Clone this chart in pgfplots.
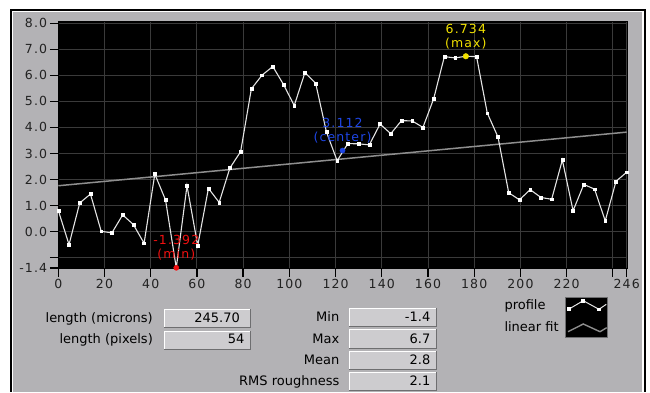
\documentclass[border=0pt]{standalone}
\usepackage{pgfplots}
\pgfplotsset{compat=1.18}
\usepackage{fontspec}
\setmainfont{DejaVu Sans}
\newfontfamily\tickfont[LetterSpace=9]{DejaVu Sans}
\definecolor{panel}{HTML}{B3B2B5}
\definecolor{boxfill}{HTML}{CDCCCF}
\definecolor{boxdark}{HTML}{6E6E70}
\definecolor{gridc}{HTML}{3A3A3A}
\definecolor{profc}{HTML}{E4E4E4}
\definecolor{fitc}{HTML}{8E8E8E}
\definecolor{ticktext}{HTML}{222222}
\definecolor{annred}{HTML}{F01010}
\definecolor{annblue}{HTML}{1E46E6}
\definecolor{annyellow}{HTML}{F0E000}
\pgfplotstableread{
x y
0.00 0.81
4.64 -0.50
9.28 1.10
13.92 1.44
18.57 0.01
23.21 -0.05
27.85 0.64
32.49 0.27
37.13 -0.45
41.77 2.21
46.42 1.21
51.06 -1.392
55.70 1.76
60.34 -0.54
64.98 1.66
69.62 1.12
74.26 2.44
78.91 3.07
83.55 5.48
88.19 6.01
92.83 6.34
97.47 5.65
102.11 4.84
106.75 6.11
111.40 5.69
116.04 3.83
120.68 2.72
125.32 3.38
129.96 3.37
134.60 3.33
139.25 4.13
143.89 3.76
148.53 4.26
153.17 4.25
157.81 4.00
162.45 5.10
167.09 6.72
171.74 6.67
176.38 6.734
181.02 6.72
185.66 4.55
190.30 3.63
194.94 1.49
199.58 1.22
204.23 1.61
208.87 1.31
213.51 1.24
218.15 2.75
222.79 0.80
227.43 1.81
232.08 1.63
236.72 0.41
241.36 1.93
246.00 2.28
}\profile
\newcommand\inbox[4]{%
  \fill[boxfill] (#1,#2) rectangle (#3,#4);
  \draw[white,line width=1pt] (#1+0.5,#4) -- (#1+0.5,#2+0.5) -- (#3,#2+0.5);
  \draw[boxdark,line width=1pt] (#1,#4-0.5) -- (#3-0.5,#4-0.5) -- (#3-0.5,#2);}
\begin{document}
\begin{tikzpicture}[x=1pt,y=1pt]
\fill[white] (0,0) rectangle (650,392);
\begin{scope}[shift={(0,392)},yscale=-1]
\fill[black] (10,9.3) rectangle (645.5,392);
\fill[white] (12,11) rectangle (643.7,392);
\fill[panel] (13.3,12) rectangle (641.7,392);
% input boxes
\inbox{164}{308.7}{251}{328}
\inbox{164}{330.7}{251}{349.5}
\inbox{349.3}{308}{437.3}{327}
\inbox{349.3}{329.3}{437.3}{348.5}
\inbox{349.3}{350.7}{437.3}{369.5}
\inbox{349.3}{371.7}{437.3}{390.5}
\tikzset{ptxt/.style={font=\fontsize{13}{15}\selectfont, text=black, inner sep=0pt}}
\node[ptxt,anchor=base east] at (153,322) {length (microns)};
\node[ptxt,anchor=base east] at (153,343.5) {length (pixels)};
\node[ptxt,anchor=base east] at (240,322) {245.70};
\node[ptxt,anchor=base east] at (244.5,343.5) {54};
\node[ptxt,anchor=base east] at (339.5,321.7) {Min};
\node[ptxt,anchor=base east] at (339.5,343.3) {Max};
\node[ptxt,anchor=base east] at (339.5,364.3) {Mean};
\node[ptxt,anchor=base east] at (339.5,385) {RMS roughness};
\node[ptxt,anchor=base east] at (430.5,321.7) {-1.4};
\node[ptxt,anchor=base east] at (430.5,343.3) {6.7};
\node[ptxt,anchor=base east] at (430.5,364.3) {2.8};
\node[ptxt,anchor=base east] at (430.5,385) {2.1};
\node[ptxt,anchor=base west] at (504.3,309.3) {profile};
\node[ptxt,anchor=base west] at (504.3,331.7) {linear fit};
\end{scope}
\begin{axis}[at={(58.3pt,124pt)}, anchor=south west,
  width=568.4pt, height=247.3pt, scale only axis,
  xmin=0, xmax=246, ymin=-1.4, ymax=8.1,
  axis background/.style={fill=black},
  axis line style={draw=black},
  grid=major, major grid style={draw=gridc, line width=0.9pt},
  tick align=outside, xtick pos=bottom, ytick pos=left,
  major tick length=8.5pt, tick style={black, line width=1.3pt},
  xtick={0,20,40,60,80,100,120,140,160,180,200,220,240,246},
  xticklabels={0,20,40,60,80,100,120,140,160,180,200,220,,246},
  ytick={-1.4,-1,0,1,2,3,4,5,6,7,8},
  yticklabels={-1.4,,0.0,1.0,2.0,3.0,4.0,5.0,6.0,7.0,8.0},
  ticklabel style={font=\tickfont\fontsize{12.5}{14}\selectfont, text=ticktext},
  yticklabel style={inner sep=2.5pt},
  xticklabel style={inner sep=2.5pt},
  /pgf/number format/assume math mode=true,
  clip=false]
\addplot[color=fitc, line width=1.5pt] coordinates {(0,1.76) (246,3.82)};
\addplot[color=profc, line width=1.1pt, mark=square*, mark size=1.4pt,
  mark options={fill=white, draw=white, line width=0.4pt}] table[x=x,y=y] {\profile};
\addplot[only marks, mark=*, mark size=2.6pt, color=annred] coordinates {(51.06,-1.392)};
\addplot[only marks, mark=*, mark size=2.6pt, color=annblue] coordinates {(123,3.112)};
\addplot[only marks, mark=*, mark size=2.8pt, color=annyellow] coordinates {(176.38,6.734)};
\node[text=annred, align=center, anchor=south, inner sep=0pt, yshift=7pt,
  font=\tickfont\fontsize{12.5}{14}\selectfont] at (axis cs:51.06,-1.392) {-1.392\\(min)};
\node[text=annblue, align=center, anchor=south, inner sep=0pt, yshift=7pt,
  font=\tickfont\fontsize{12.5}{14}\selectfont] at (axis cs:123,3.112) {3.112\\(center)};
\node[text=annyellow, align=center, anchor=south, inner sep=0pt, yshift=7pt,
  font=\tickfont\fontsize{12.5}{14}\selectfont] at (axis cs:176.38,6.734) {6.734\\(max)};
\end{axis}
\begin{axis}[at={(565.7pt,54.7pt)}, anchor=south west,
  width=41.6pt, height=40pt, scale only axis,
  xmin=0, xmax=4, ymin=0, ymax=4,
  axis background/.style={fill=black},
  axis line style={draw=boxdark, line width=1pt},
  ticks=none, clip=false]
\addplot[color=profc, line width=1pt, mark=square*, mark size=1.3pt,
  mark options={fill=white, draw=white}, mark indices={1,2,3}]
  coordinates {(0.32,2.83) (1.69,3.66) (3.2,2.8) (3.9,3.3)};
\addplot[color=fitc, line width=1.4pt] coordinates {(0.22,0.56) (1.69,1.33) (3.3,0.56) (3.94,0.96)};
\end{axis}
\end{tikzpicture}
\end{document}
